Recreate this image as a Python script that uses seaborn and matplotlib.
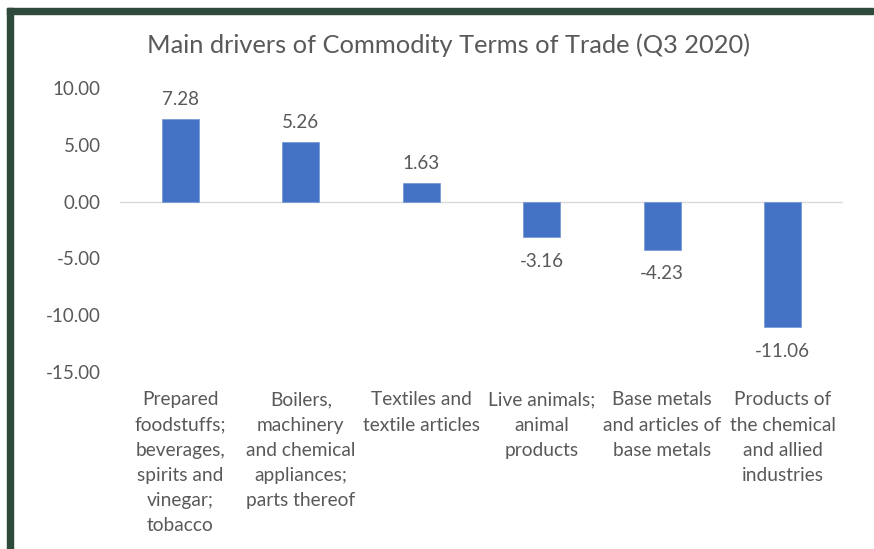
import matplotlib
matplotlib.use("Agg")
import matplotlib.pyplot as plt
import seaborn as sns
import pandas as pd
from matplotlib.patches import Rectangle

# data
categories = [
    "Prepared\nfoodstuffs;\nbeverages,\nspirits and\nvinegar;\ntobacco",
    "Boilers,\nmachinery\nand chemical\nappliances;\nparts thereof",
    "Textiles and\ntextile articles",
    "Live animals;\nanimal\nproducts",
    "Base metals\nand articles of\nbase metals",
    "Products of\nthe chemical\nand allied\nindustries",
]
values = [7.28, 5.26, 1.63, -3.16, -4.23, -11.06]
y_ticks = [10, 5, 0, -5, -10, -15]

df = pd.DataFrame({"category": categories, "value": values})

sns.set_style("white")
plt.rcParams["font.family"] = ["Lato", "DejaVu Sans"]

grey = "#595959"
bar_color = "#4472C4"

fig = plt.figure(figsize=(8.74, 5.49), dpi=100)
ax = fig.add_axes([120 / 874, 1 - 372 / 549, 723 / 874, (372 - 88) / 549])

sns.barplot(data=df, x="category", y="value", color=bar_color, width=0.31,
            saturation=1, edgecolor="#7a9bd6", linewidth=0.6, ax=ax)

ax.set_ylim(-15, 10)
ax.set_xlim(-0.5, len(categories) - 0.5)
ax.set_yticks(y_ticks)
ax.set_yticklabels([f"{t:.2f}" for t in y_ticks])
ax.axhline(0, color="#d9d9d9", linewidth=1, zorder=0)

for side in ["top", "right", "bottom", "left"]:
    ax.spines[side].set_visible(False)
ax.tick_params(axis="y", length=0, pad=14, labelsize=13.5, labelcolor=grey)
ax.tick_params(axis="x", length=0, pad=14, labelsize=13.8, labelcolor=grey)
ax.set_xlabel("")
ax.set_ylabel("")

for lbl in ax.get_xticklabels():
    lbl.set_linespacing(1.58)

for i, v in enumerate(values):
    if v >= 0:
        ax.annotate(f"{v:.2f}", (i, v), xytext=(0, 8), textcoords="offset points",
                    ha="center", va="bottom", fontsize=13.5, color=grey)
    else:
        ax.annotate(f"{v:.2f}", (i, v), xytext=(0, -11), textcoords="offset points",
                    ha="center", va="top", fontsize=13.5, color=grey)

fig.text(449 / 874, 1 - 45 / 549, "Main drivers of Commodity Terms of Trade (Q3 2020)",
         ha="center", va="center", fontsize=18.3, color=grey)

# dark green frame on top and left
frame = "#2e4a3a"
fig.patches.append(Rectangle((7 / 874, 1 - 14 / 549), 866 / 874, 6 / 549,
                             transform=fig.transFigure, color=frame, zorder=5))
fig.patches.append(Rectangle((7 / 874, 0), 6 / 874, 1 - 8 / 549,
                             transform=fig.transFigure, color=frame, zorder=5))

fig.savefig("out.png", dpi=100)
